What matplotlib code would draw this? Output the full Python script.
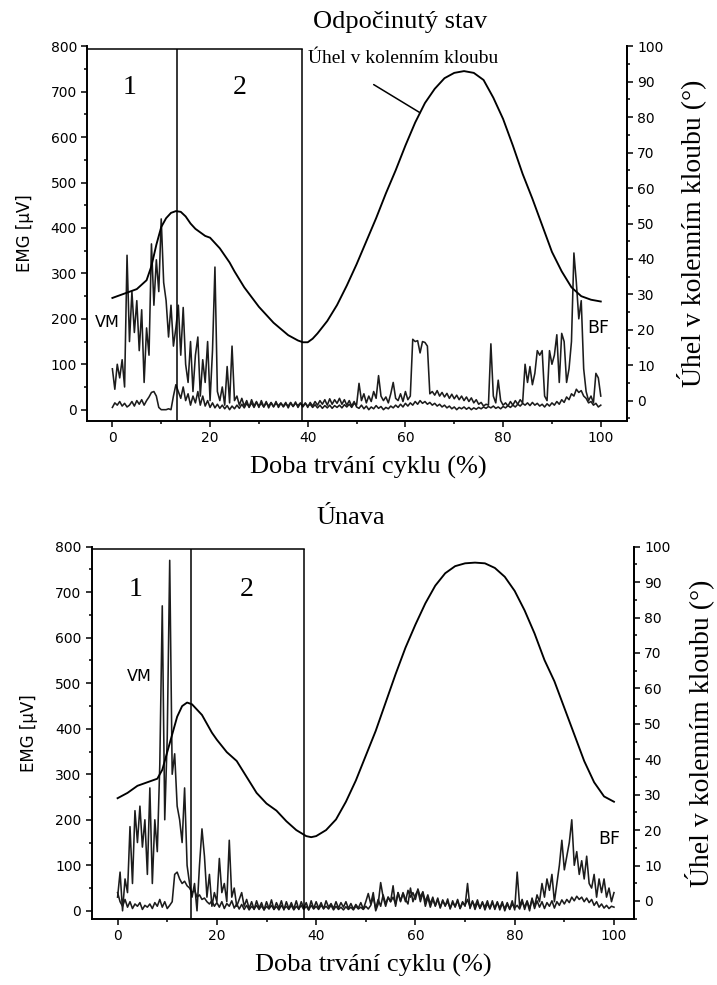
import numpy as np
import matplotlib
matplotlib.use("Agg")
import matplotlib.pyplot as plt
from matplotlib.ticker import MultipleLocator

SERIF = "Liberation Serif"
SANS = "DejaVu Sans"

# EMG traces [uV], one value every 0.5 % of the cycle (0 ... 100 %)
# top panel - rested state
rest_vm = [
    90, 45, 100, 70, 110, 50, 340, 150, 260, 170,      # 0
    240, 130, 220, 60, 180, 120, 365, 230, 330, 260,   # 5
    420, 280, 240, 160, 230, 140, 180, 230, 120, 225,  # 10
    100, 60, 150, 40, 120, 160, 30, 110, 60, 150,      # 15
    20, 130, 314, 40, 20, 50, 10, 95, 15, 140,         # 20
    20, 30, 10, 25, 8, 20, 5, 22, 8, 18,               # 25
    5, 20, 6, 18, 4, 15, 6, 18, 5, 14,                 # 30
    8, 16, 4, 15, 7, 17, 5, 14, 8, 15,                 # 35
    5, 16, 8, 18, 10, 20, 12, 22, 10, 24,              # 40
    12, 22, 14, 25, 12, 22, 10, 20, 8, 18,             # 45
    6, 3, 10, 2, 8, 0, 6, 2, 9, 3,                     # 50
    7, 0, 5, 2, 8, 4, 10, 5, 12, 6,                    # 55
    14, 8, 15, 10, 18, 12, 20, 14, 18, 12,             # 60
    16, 10, 14, 8, 12, 6, 10, 4, 8, 2,                 # 65
    6, 0, 5, 2, 6, 1, 5, 0, 4, 1,                      # 70
    5, 2, 6, 3, 7, 4, 8, 3, 6, 2,                      # 75
    7, 4, 9, 5, 10, 6, 12, 8, 14, 10,                  # 80
    15, 9, 16, 10, 14, 8, 12, 6, 13, 8,                # 85
    15, 10, 18, 12, 22, 16, 28, 22, 35, 30,            # 90
    45, 38, 42, 30, 25, 15, 18, 10, 14, 6,             # 95
    10,
]
rest_bf = [
    5, 15, 10, 18, 8, 14, 6, 10, 18, 8,                # 0
    20, 12, 22, 10, 20, 28, 38, 40, 30, 5,             # 5
    0, 0, 0, 2, 0, 30, 55, 40, 25, 50,                 # 10
    20, 35, 10, 30, 15, 40, 10, 30, 8, 20,             # 15
    5, 15, 4, 12, 3, 10, 2, 9, 0, 8,                   # 20
    2, 10, 3, 12, 4, 14, 6, 15, 5, 16,                 # 25
    8, 14, 6, 15, 8, 16, 7, 14, 9, 15,                 # 30
    6, 13, 8, 16, 7, 14, 9, 15, 6, 14,                 # 35
    8, 12, 5, 11, 4, 10, 3, 9, 4, 10,                  # 40
    3, 9, 5, 10, 4, 11, 6, 12, 5, 14,                  # 45
    10, 58, 20, 35, 15, 30, 18, 40, 25, 75,            # 50
    30, 20, 28, 15, 35, 60, 25, 20, 35, 18,            # 55
    40, 22, 30, 155, 150, 152, 125, 150, 148, 140,     # 60
    35, 40, 32, 42, 30, 38, 28, 36, 25, 34,            # 65
    24, 32, 22, 30, 20, 28, 18, 26, 15, 22,            # 70
    12, 16, 8, 12, 10, 145, 30, 15, 65, 20,            # 75
    10, 15, 8, 18, 10, 20, 12, 22, 15, 100,            # 80
    60, 95, 55, 80, 130, 120, 130, 30, 20, 130,        # 85
    100, 120, 165, 60, 168, 150, 60, 90, 150, 345,     # 90
    280, 200, 240, 90, 40, 20, 30, 15, 80, 70,         # 95
    30,
]
rest_angle_x = [0, 1, 3, 5, 7, 8, 9, 10, 11, 12, 13, 14, 15, 16, 17, 18, 19, 20,
                21, 22, 23, 24, 25, 27, 30, 33, 36, 38, 39, 40, 41, 42, 44, 46,
                48, 50, 52, 54, 56, 58, 60, 62, 64, 66, 68, 70, 72, 74, 76, 78,
                80, 82, 84, 86, 88, 90, 92, 94, 96, 98, 100]
rest_angle = [29, 29.5, 30.5, 31.5, 34, 38, 44, 49, 51.5, 53, 53.5, 53.3, 52, 50,
              48.5, 47.5, 46.5, 46, 44.5, 43, 41, 39, 36.5, 32, 26.5, 22, 18.5,
              17, 16.5, 16.5, 17.5, 19, 22.5, 27, 32.5, 38.5, 45, 51.5, 58.5, 65,
              72, 78.5, 84, 88, 91, 92.5, 93, 92.5, 90.5, 85.5, 79.5, 72, 64, 57,
              49.5, 42, 36.5, 32, 29.5, 28.5, 28]

# bottom panel - fatigue
fat_vm = [
    30, 85, 0, 70, 40, 185, 60, 220, 150, 230,         # 0
    140, 200, 80, 270, 60, 200, 130, 320, 670, 200,    # 5
    380, 770, 300, 345, 230, 200, 150, 270, 100, 60,   # 10
    30, 60, 0, 100, 180, 120, 30, 80, 10, 40,          # 15
    20, 115, 40, 60, 20, 155, 30, 50, 10, 25,          # 20
    40, 10, 25, 5, 20, 3, 22, 6, 18, 2,                # 25
    20, 5, 24, 3, 18, 6, 22, 2, 20, 5,                 # 30
    18, 4, 22, 3, 20, 6, 18, 2, 22, 5,                 # 35
    20, 6, 18, 4, 22, 8, 16, 5, 20, 6,                 # 40
    18, 8, 20, 5, 16, 4, 14, 6, 18, 4,                 # 45
    20, 38, 15, 40, 0, 15, 62, 30, 10, 30,             # 50
    20, 55, 10, 40, 20, 40, 25, 15, 50, 20,            # 55
    35, 45, 20, 40, 10, 30, 8, 25, 12, 28,             # 60
    6, 24, 10, 26, 4, 22, 8, 25, 5, 20,                # 65
    10, 60, 5, 22, 3, 18, 6, 20, 2, 16,                # 70
    5, 22, 3, 18, 6, 20, 0, 15, 4, 22,                 # 75
    2, 85, 10, 25, 3, 20, 0, 28, 5, 22,                # 80
    8, 20, 5, 18, 10, 22, 6, 20, 12, 24,               # 85
    15, 25, 18, 30, 22, 32, 25, 30, 20, 28,            # 90
    18, 25, 12, 20, 8, 15, 6, 12, 5, 10,               # 95
    8,
]
fat_bf = [
    40, 20, 10, 25, 8, 20, 5, 15, 10, 18,              # 0
    3, 12, 8, 15, 5, 18, 10, 25, 8, 20,                # 5
    5, 12, 20, 80, 85, 70, 60, 65, 55, 50,             # 10
    40, 45, 30, 35, 25, 28, 20, 15, 22, 10,            # 15
    18, 8, 20, 5, 16, 10, 22, 6, 15, 4,                # 20
    14, 3, 12, 2, 10, 4, 12, 3, 11, 2,                 # 25
    10, 4, 12, 3, 10, 2, 12, 4, 10, 3,                 # 30
    12, 2, 10, 4, 12, 3, 10, 2, 12, 4,                 # 35
    10, 3, 12, 5, 10, 4, 12, 2, 10, 3,                 # 40
    8, 2, 9, 3, 8, 2, 10, 4, 8, 3,                     # 45
    10, 4, 12, 30, 5, 25, 10, 35, 15, 30,              # 50
    20, 30, 15, 40, 22, 38, 20, 45, 30, 40,            # 55
    25, 48, 30, 42, 20, 35, 15, 30, 10, 25,            # 60
    8, 22, 12, 20, 6, 18, 10, 22, 5, 18,               # 65
    12, 25, 8, 20, 10, 24, 5, 18, 8, 22,               # 70
    4, 18, 6, 20, 2, 16, 5, 18, 3, 15,                 # 75
    6, 12, 4, 20, 8, 22, 5, 25, 10, 35,                # 80
    20, 60, 30, 70, 45, 80, 20, 60, 100, 155,          # 85
    90, 120, 150, 200, 100, 130, 80, 110, 70, 120,     # 90
    60, 50, 80, 30, 70, 40, 70, 30, 50, 20,            # 95
    40,
]
fat_angle_x = [0, 2, 4, 6, 8, 9, 10, 11, 12, 13, 14, 15, 16, 17, 18, 19, 20, 22,
               24, 26, 28, 30, 32, 34, 36, 38, 39, 40, 42, 44, 46, 48, 50, 52, 54,
               56, 58, 60, 62, 64, 66, 68, 70, 72, 74, 76, 78, 80, 82, 84, 86, 88,
               90, 92, 94, 96, 98, 100]
fat_angle = [29, 30.5, 32.5, 33.5, 34.5, 37, 42, 47, 52, 55, 56, 55.5, 54, 52.5,
             50, 47.5, 45.5, 42, 39.5, 35, 30.5, 27.5, 25.5, 22.5, 20, 18.3, 18,
             18.3, 20, 23, 28, 34, 41, 48, 56, 64, 71.5, 78, 84, 89, 92.5, 94.5,
             95.3, 95.5, 95.3, 94, 91.5, 87.5, 82, 75.5, 68, 62, 54.5, 47, 39.5,
             33.5, 29.5, 28]

for s in (rest_vm, rest_bf, fat_vm, fat_bf):
    assert len(s) == 201
cycle = np.arange(201) * 0.5


def draw_panel(ax, vm, bf, ang_x, ang, xlim, ylim, rlim, divider, box_end,
               title, title_xy, num_y, vm_xy, bf_xy):
    ax.plot(cycle, bf, color="#1c1c1c", lw=1.15)
    ax.plot(cycle, vm, color="#1c1c1c", lw=1.15)

    # phase box 1 | 2
    top = 795
    ax.plot([xlim[0], box_end], [top, top], color="k", lw=1.1)
    ax.vlines([divider, box_end], ylim[0], top, color="k", lw=1.1)

    ax.set_xlim(xlim)
    ax.set_ylim(ylim)
    ax.xaxis.set_major_locator(MultipleLocator(20))
    ax.xaxis.set_minor_locator(MultipleLocator(10))
    ax.yaxis.set_major_locator(MultipleLocator(100))
    ax.yaxis.set_minor_locator(MultipleLocator(50))
    ax.spines["top"].set_visible(False)
    for sp in ("left", "bottom", "right"):
        ax.spines[sp].set_linewidth(1.4)
    ax.tick_params(which="both", direction="out", width=1.1, labelsize=10)
    ax.tick_params(which="major", length=4)
    ax.tick_params(which="minor", length=2.5)
    for lab in ax.get_xticklabels() + ax.get_yticklabels():
        lab.set_fontfamily(SANS)

    ax.set_ylabel("EMG [µV]", fontfamily=SANS, fontsize=12, va="center")
    ax.yaxis.set_label_coords(-0.116, 0.5)
    ax.set_xlabel("Doba trvání cyklu (%)", fontfamily=SERIF, fontsize=19,
                  va="center")
    ax.xaxis.set_label_coords(0.52, -0.125)

    ax.text(title_xy[0], title_xy[1], title, fontfamily=SERIF, fontsize=19,
            ha="center", va="center", clip_on=False)
    ax.text(3.6, num_y, "1", fontfamily=SERIF, fontsize=20, ha="center", va="center")
    ax.text(26, num_y, "2", fontfamily=SERIF, fontsize=20, ha="center", va="center")
    ax.text(vm_xy[0], vm_xy[1], "VM", fontfamily=SANS, fontsize=11.5,
            ha="center", va="center")
    ax.text(bf_xy[0], bf_xy[1], "BF", fontfamily=SANS, fontsize=12.5,
            ha="center", va="center")

    # knee angle on the right axis
    ax2 = ax.twinx()
    ax2.plot(ang_x, ang, color="k", lw=1.35)
    ax2.set_ylim(rlim)
    ax2.yaxis.set_major_locator(MultipleLocator(10))
    ax2.yaxis.set_minor_locator(MultipleLocator(5))
    for sp in ("top", "left", "bottom"):
        ax2.spines[sp].set_visible(False)
    ax2.spines["right"].set_linewidth(1.4)
    ax2.tick_params(which="both", direction="out", width=1.1, labelsize=10)
    ax2.tick_params(which="major", length=4)
    ax2.tick_params(which="minor", length=2.5)
    for lab in ax2.get_yticklabels():
        lab.set_fontfamily(SANS)
    ax2.set_ylabel("Úhel v kolenním kloubu (°)", fontfamily=SERIF, fontsize=20,
                   rotation=90, va="center")
    ax2.yaxis.set_label_coords(1.12, 0.5)
    return ax2


fig = plt.figure(figsize=(7.17, 9.85), dpi=100)

ax_top = fig.add_axes([0.122, 0.573, 0.752, 0.380])
ax2_top = draw_panel(ax_top, rest_vm, rest_bf, rest_angle_x, rest_angle,
                     xlim=(-5.1, 105.3), ylim=(-24, 800), rlim=(-5.6, 100),
                     divider=13.2, box_end=38.9, title="Odpočinutý stav",
                     title_xy=(59, 853), num_y=709, vm_xy=(-1, 192),
                     bf_xy=(99.5, 179))
ax_top.text(40, 774, "Úhel v kolenním kloubu", fontfamily=SERIF, fontsize=14,
            ha="left", va="center")
ax2_top.annotate("", xy=(63, np.interp(63, rest_angle_x, rest_angle)),
                 xytext=(53.5, 89.2),
                 arrowprops=dict(arrowstyle="-", lw=1.1, color="k",
                                 shrinkA=0, shrinkB=0))

ax_bot = fig.add_axes([0.128, 0.067, 0.756, 0.378])
draw_panel(ax_bot, fat_vm, fat_bf, fat_angle_x, fat_angle,
           xlim=(-5.2, 104), ylim=(-18, 800), rlim=(-5.1, 100),
           divider=14.7, box_end=37.6, title="Únava", title_xy=(47, 863),
           num_y=705, vm_xy=(4.4, 515), bf_xy=(99, 158))

fig.savefig("out.png", dpi=100)
